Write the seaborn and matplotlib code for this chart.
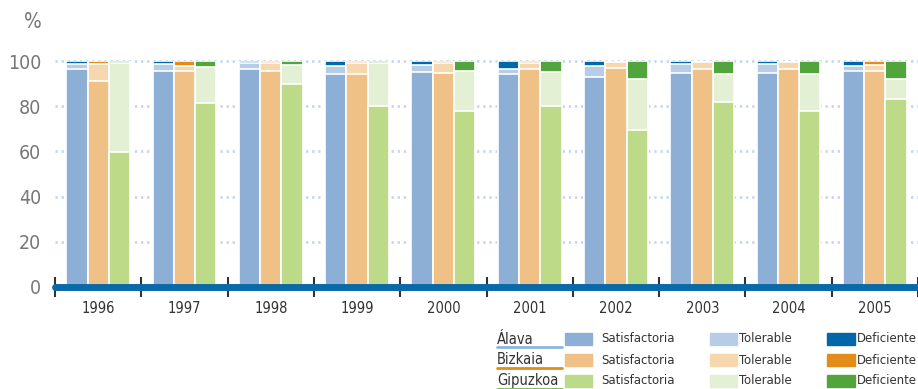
import numpy as np
import pandas as pd
import matplotlib.pyplot as plt
import seaborn as sns
from matplotlib.patches import Rectangle
from matplotlib.lines import Line2D

years = ['1996', '1997', '1998', '1999', '2000', '2001', '2002', '2003', '2004', '2005']
provinces = ['Álava', 'Bizkaia', 'Gipuzkoa']

# % de playas por calidad: Satisfactoria / Tolerable / Deficiente
alava_sat = [96.3, 95.7, 96.3, 94.2, 95.1, 94.2, 93.0, 94.8, 94.7, 95.4]
alava_tol = [2.2, 3.0, 2.7, 3.6, 3.0, 2.2, 4.8, 3.7, 3.8, 2.5]
alava_def = [1.5, 1.3, 1.0, 2.2, 1.9, 3.6, 2.2, 1.5, 1.5, 2.1]

bizkaia_sat = [91.1, 95.6, 95.7, 94.4, 94.8, 96.3, 96.9, 96.3, 96.4, 95.6]
bizkaia_tol = [7.4, 2.2, 3.3, 4.6, 4.2, 2.9, 2.6, 3.1, 3.0, 2.6]
bizkaia_def = [1.5, 2.2, 1.0, 1.0, 1.0, 0.8, 0.5, 0.6, 0.6, 1.8]

gipuzkoa_sat = [59.7, 81.5, 89.8, 80.1, 77.8, 80.3, 69.6, 81.8, 77.9, 83.0]
gipuzkoa_tol = [39.3, 16.0, 8.6, 18.9, 17.6, 14.9, 22.5, 12.6, 16.3, 8.9]
gipuzkoa_def = [1.0, 2.5, 1.6, 1.0, 4.6, 4.8, 7.9, 5.6, 5.8, 8.1]

col_sat = {'Álava': '#8eafd5', 'Bizkaia': '#efc186', 'Gipuzkoa': '#bcda88'}
col_tol = {'Álava': '#b7cce6', 'Bizkaia': '#f7d7ae', 'Gipuzkoa': '#e4f0d4'}
col_def = {'Álava': '#0068a8', 'Bizkaia': '#e28c1a', 'Gipuzkoa': '#52a43c'}
line_col = {'Álava': '#8eb4de', 'Bizkaia': '#e28c1a', 'Gipuzkoa': '#7ab648'}

rows = []
for prov, s, t, d in [('Álava', alava_sat, alava_tol, alava_def),
                      ('Bizkaia', bizkaia_sat, bizkaia_tol, bizkaia_def),
                      ('Gipuzkoa', gipuzkoa_sat, gipuzkoa_tol, gipuzkoa_def)]:
    for i, y in enumerate(years):
        rows.append({'year': y, 'prov': prov, 'sat': s[i], 'tol': t[i], 'def': d[i]})
df = pd.DataFrame(rows)
df['st'] = df['sat'] + df['tol']
df['total'] = df['st'] + df['def']

sns.set_style('white')
plt.rcParams['font.family'] = ['DejaVu Sans']
plt.rcParams['font.stretch'] = 'condensed'

fig = plt.figure(figsize=(9.18, 3.89), dpi=100)
ax = fig.add_axes([55 / 918, 102 / 389, 1 - 55 / 918, 226 / 389])

# stacked bars: draw cumulative totals from the top layer down
for col, pal in [('total', col_def), ('st', col_tol), ('sat', col_sat)]:
    sns.barplot(data=df, x='year', y=col, hue='prov', hue_order=provinces, order=years,
                palette=pal, saturation=1, width=0.74, edgecolor='white', linewidth=1.2,
                legend=False, ax=ax, zorder=3)

ax.set_xlim(-0.5, 9.5)
ax.set_ylim(0, 100)
ax.set_yticks(range(0, 101, 20))
for v in range(20, 101, 20):
    ax.axhline(v, color='#c6d6ec', lw=2, ls=(0, (0.8, 1.4)), zorder=1, clip_on=False)
ax.axhline(0, color='#0a6aa8', lw=5, zorder=4, clip_on=False)

# group separators as minor ticks
ax.set_xticks(np.arange(-0.5, 10), minor=True)
ax.tick_params(axis='x', which='major', length=0, pad=10, labelsize=10.5, labelcolor='#333333')
ax.tick_params(axis='x', which='minor', bottom=True, length=14, width=1.5,
               direction='inout', color='#333333')
ax.tick_params(axis='y', length=0, pad=10, labelsize=14, labelcolor='#777777')
for sp in ax.spines.values():
    sp.set_visible(False)
ax.set_xlabel('')
ax.set_ylabel('')
fig.text(33 / 918, 1 - 22 / 389, '%', fontsize=15, color='#777777', ha='center', va='center')

# legend
row_y = [339, 360, 381]
for prov, ry in zip(provinces, row_y):
    yf = 1 - ry / 389
    fig.text(497 / 918, yf, prov, fontsize=10.5, color='#333333', va='center', ha='left')
    fig.lines.append(Line2D([497 / 918, 562 / 918], [yf - 8 / 389] * 2, color=line_col[prov],
                            lw=2, transform=fig.transFigure))
    for x0, x1, pal, lab in [(565, 592, col_sat, 'Satisfactoria'),
                             (710, 737, col_tol, 'Tolerable'),
                             (827, 855, col_def, 'Deficiente')]:
        fig.patches.append(Rectangle((x0 / 918, yf - 6 / 389), (x1 - x0) / 918, 12 / 389,
                                     color=pal[prov], transform=fig.transFigure))
        fig.text((x1 + (9 if lab == 'Satisfactoria' else 2)) / 918, yf, lab, fontsize=9.4,
                 color='#333333', va='center', ha='left')

fig.savefig('out.png', dpi=100)
